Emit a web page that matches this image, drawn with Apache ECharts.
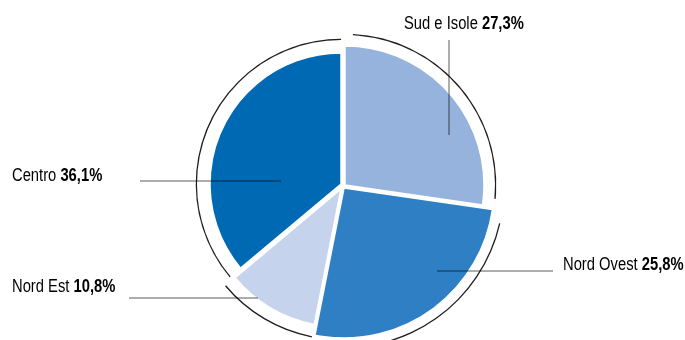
<!DOCTYPE html>
<html>
<head>
<meta charset="utf-8">
<script src="https://cdn.jsdelivr.net/npm/echarts@6/dist/echarts.min.js"></script>
<style>
  html, body { margin: 0; padding: 0; background: #fff; }
  #chart { width: 685px; height: 340px; }
</style>
</head>
<body>
<div id="chart"></div>
<script>
// Distribuzione per area geografica (valori percentuali)
const areas  = ['Sud e Isole', 'Nord Ovest', 'Nord Est', 'Centro'];
const shares = [27.3, 25.8, 10.8, 36.1];
const colors = ['#95b3dc', '#2e7fc3', '#c6d3ec', '#0069b4'];

// Each sector is drawn by its own pie series (all values kept so angles stay
// proportional), with its own centre and radius plus a thin outer arc.
const sectorLayout = [
  { center: [345, 185], r: 139, arc: 150, arcPad: 6 },
  { center: [344, 188], r: 150, arc: 159, arcPad: 9 },
  { center: [341, 189], r: 138, arc: 150, arcPad: 0 },
  { center: [341, 184], r: 131, arc: 144, arcPad: 0 }
];

// Condensed look: regular sans squeezed horizontally
const FONT = '"Liberation Sans", Arial, sans-serif';
const SQUEEZE = 0.82;

function pieData(idx, color, border) {
  return areas.map((name, i) => ({
    name,
    value: shares[i],
    itemStyle: i === idx
      ? { color, borderColor: '#fff', borderWidth: border }
      : { color: 'rgba(0,0,0,0)', borderWidth: 0 }
  }));
}

const series = [];
sectorLayout.forEach((l, idx) => {
  series.push({
    type: 'pie',
    silent: true,
    animation: false,
    startAngle: 90,
    clockwise: true,
    center: l.center,
    radius: [0, l.r],
    label: { show: false },
    labelLine: { show: false },
    data: pieData(idx, colors[idx], 1.5)
  });
  series.push({
    type: 'pie',
    silent: true,
    animation: false,
    startAngle: 90,
    clockwise: true,
    padAngle: l.arcPad,
    center: l.center,
    radius: [l.arc, l.arc + 1.3],
    label: { show: false },
    labelLine: { show: false },
    data: pieData(idx, '#1e1e1e', 0)
  });
});

const fmt = v => v.toFixed(1).replace('.', ',') + '%';

// Callout text and leader lines
const callouts = [
  { idx: 0, x: 404, y: 24,  line: [[449, 40], [449, 135]] },
  { idx: 1, x: 563, y: 265, line: [[437, 271], [553, 271]] },
  { idx: 2, x: 12,  y: 287, line: [[129, 298], [258, 298]] },
  { idx: 3, x: 12,  y: 176, line: [[140, 181], [281, 181]] }
];

const graphic = [];
callouts.forEach(c => {
  graphic.push({
    type: 'polyline',
    silent: true,
    z: 100,
    shape: { points: c.line },
    style: { stroke: '#5a5a5a', lineWidth: 1, fill: null, blend: 'multiply' }
  });
  graphic.push({
    type: 'text',
    silent: true,
    z: 100,
    x: c.x,
    y: c.y,
    scaleX: SQUEEZE,
    style: {
      text: '{n|' + areas[c.idx] + ' }{v|' + fmt(shares[c.idx]) + '}',
      textVerticalAlign: 'middle',
      rich: {
        n: { fontFamily: FONT, fontSize: 18, color: '#3c3c3c' },
        v: { fontFamily: FONT, fontSize: 18, fontWeight: 'bold', color: '#2a2a2a' }
      }
    }
  });
});

const chart = echarts.init(document.getElementById('chart'), null, { renderer: 'canvas' });
chart.setOption({
  backgroundColor: '#fff',
  animation: false,
  series,
  graphic
});
</script>
</body>
</html>
